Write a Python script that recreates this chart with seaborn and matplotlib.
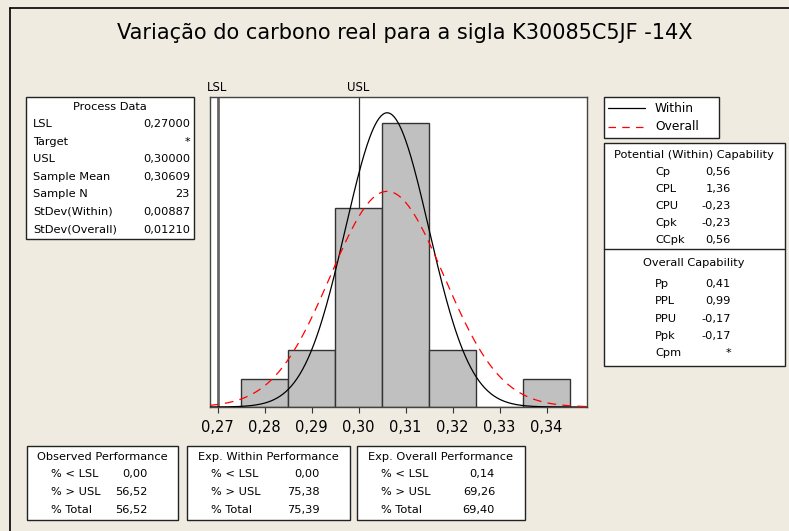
import numpy as np
import pandas as pd
import matplotlib
matplotlib.use("Agg")
import matplotlib.pyplot as plt
import seaborn as sns
from matplotlib.patches import Rectangle
from matplotlib.lines import Line2D

# histogram data
bin_centers = [0.28, 0.29, 0.30, 0.31, 0.32, 0.33, 0.34]
bin_counts = [1, 2, 7, 10, 2, 0, 1]
bin_edges = [0.275, 0.285, 0.295, 0.305, 0.315, 0.325, 0.335, 0.345]
bin_width = 0.01

lsl = 0.27
usl = 0.30
mean = 0.30609
sd_within = 0.00887
sd_overall = 0.01210
n = 23

tick_values = [0.27, 0.28, 0.29, 0.30, 0.31, 0.32, 0.33, 0.34]
tick_labels = ["0,27", "0,28", "0,29", "0,30", "0,31", "0,32", "0,33", "0,34"]

process_labels = ["LSL", "Target", "USL", "Sample Mean", "Sample N", "StDev(Within)", "StDev(Overall)"]
process_values = ["0,27000", "*", "0,30000", "0,30609", "23", "0,00887", "0,01210"]

within_labels = ["Cp", "CPL", "CPU", "Cpk", "CCpk"]
within_values = ["0,56", "1,36", "-0,23", "-0,23", "0,56"]
overall_labels = ["Pp", "PPL", "PPU", "Ppk", "Cpm"]
overall_values = ["0,41", "0,99", "-0,17", "-0,17", "*"]

perf_titles = ["Observed Performance", "Exp. Within Performance", "Exp. Overall Performance"]
perf_labels = ["% < LSL", "% > USL", "% Total"]
perf_values = [["0,00", "56,52", "56,52"],
               ["0,00", "75,38", "75,39"],
               ["0,14", "69,26", "69,40"]]

W, H = 789, 531
BG = "#EFEBE1"
FS = 8.2


def fx(px):
    return px / W


def fy(py):
    return 1 - py / H


def box(fig, x0, y0, x1, y1):
    fig.add_artist(Rectangle((fx(x0), fy(y1)), fx(x1) - fx(x0), fy(y0) - fy(y1),
                             transform=fig.transFigure, facecolor="white",
                             edgecolor="#222222", lw=1.0))


def txt(fig, px, py, s, ha="left", size=FS):
    fig.text(fx(px), fy(py), s, ha=ha, va="center", fontsize=size, color="black")


sns.set_style("white")
plt.rcParams["font.family"] = ["DejaVu Sans"]
plt.rcParams["text.color"] = "black"
plt.rcParams["xtick.color"] = "black"

fig = plt.figure(figsize=(7.89, 5.31), dpi=100, facecolor=BG)

# outer frame (top and left edge only visible)
fig.add_artist(Line2D([fx(10), 1], [fy(8), fy(8)], transform=fig.transFigure, color="black", lw=1.2))
fig.add_artist(Line2D([fx(10), fx(10)], [0, fy(8)], transform=fig.transFigure, color="black", lw=1.2))

fig.text(fx(405), fy(33), "Variação do carbono real para a sigla K30085C5JF -14X",
         ha="center", va="center", fontsize=15, color="black")

ax = fig.add_axes([fx(210), fy(407), fx(587) - fx(210), fy(97) - fy(407)])
ax.set_facecolor("white")

df = pd.DataFrame({"x": bin_centers, "count": bin_counts})
ax.axvline(lsl, color="#666666", lw=2.0, zorder=1)
ax.axvline(usl, color="#333333", lw=0.9, zorder=1)
sns.histplot(data=df, x="x", weights="count", bins=bin_edges, ax=ax,
             color="#C0C0C0", edgecolor="#333333", linewidth=1.0, alpha=1, zorder=2)

xs = np.linspace(0.2684, 0.3486, 400)
scale = n * bin_width
pdf_w = scale * np.exp(-0.5 * ((xs - mean) / sd_within) ** 2) / (sd_within * np.sqrt(2 * np.pi))
pdf_o = scale * np.exp(-0.5 * ((xs - mean) / sd_overall) ** 2) / (sd_overall * np.sqrt(2 * np.pi))
ax.plot(xs, pdf_w, color="black", lw=0.9, zorder=3)
ax.plot(xs, pdf_o, color="#FF0000", lw=0.9, zorder=3, linestyle=(0, (7, 5)))

ax.set_xlim(0.2684, 0.3486)
ax.set_ylim(0, 10.9)
ax.set_yticks([])
ax.set_xticks(tick_values)
ax.set_xticklabels(tick_labels, fontsize=10.5)
ax.tick_params(axis="x", direction="out", length=4, width=0.8, color="#333333", pad=5, bottom=True)
ax.set_xlabel("")
ax.set_ylabel("")
for sp in ax.spines.values():
    sp.set_color("#444444")
    sp.set_linewidth(1.0)

for val, name in [(lsl, "LSL"), (usl, "USL")]:
    ax.text(val, 1.01, name, transform=ax.get_xaxis_transform(), ha="center",
            va="bottom", fontsize=8.5)

# Process Data box
box(fig, 26, 97, 194, 239)
txt(fig, 110, 107, "Process Data", ha="center")
for i, (lab, val) in enumerate(zip(process_labels, process_values)):
    y = 124 + i * 17.6
    txt(fig, 33, y, lab)
    txt(fig, 190, y, val, ha="right")

# legend box
box(fig, 604, 97, 719, 138)
fig.add_artist(Line2D([fx(608), fx(645)], [fy(108), fy(108)], transform=fig.transFigure,
                      color="black", lw=0.9))
fig.add_artist(Line2D([fx(608), fx(645)], [fy(127), fy(127)], transform=fig.transFigure,
                      color="#FF0000", lw=0.9, linestyle=(0, (6, 5))))
txt(fig, 655, 108, "Within", size=8.8)
txt(fig, 655, 127, "Overall", size=8.8)

# capability box
box(fig, 604, 143, 785, 366)
fig.add_artist(Line2D([fx(604), fx(785)], [fy(249), fy(249)], transform=fig.transFigure,
                      color="#222222", lw=1.0))
txt(fig, 694, 155, "Potential (Within) Capability", ha="center")
for i, (lab, val) in enumerate(zip(within_labels, within_values)):
    y = 172 + i * 17
    txt(fig, 655, y, lab)
    txt(fig, 731, y, val, ha="right")
txt(fig, 694, 263, "Overall Capability", ha="center")
for i, (lab, val) in enumerate(zip(overall_labels, overall_values)):
    y = 284 + i * 17.3
    txt(fig, 655, y, lab)
    txt(fig, 731, y, val, ha="right")

# performance boxes
perf_boxes = [(27, 178), (187, 350), (357, 525)]
for (x0, x1), title, vals in zip(perf_boxes, perf_titles, perf_values):
    box(fig, x0, 446, x1, 520)
    txt(fig, (x0 + x1) / 2, 457, title, ha="center")
    for j, (lab, val) in enumerate(zip(perf_labels, vals)):
        y = 474 + j * 18
        txt(fig, x0 + 24, y, lab)
        txt(fig, x1 - 30, y, val, ha="right")

fig.savefig("out.png", dpi=100, facecolor=BG)
